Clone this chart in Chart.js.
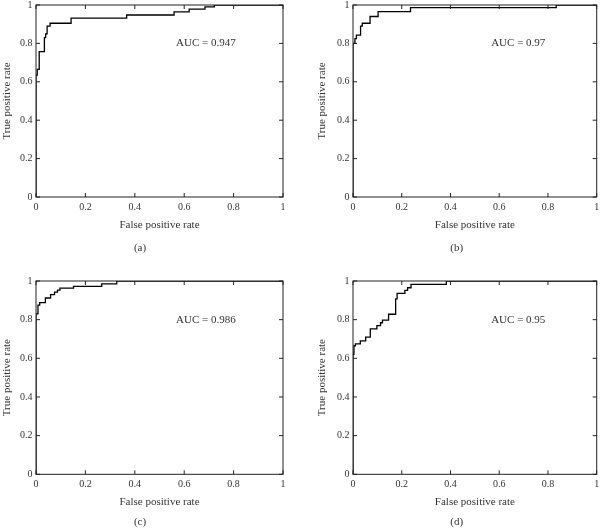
<!DOCTYPE html>
<html>
<head>
<meta charset="utf-8">
<script src="https://cdn.jsdelivr.net/npm/chart.js@4.4.0/dist/chart.umd.min.js"></script>
<style>
  body { margin: 0; background: #fff; }
  #wrap { position: relative; width: 600px; height: 529px; }
  canvas { position: absolute; }
</style>
</head>
<body>
<div id="wrap">
  <canvas id="chartA" width="300" height="264" style="left:0;top:0;width:300px;height:264px"></canvas>
  <canvas id="chartB" width="300" height="264" style="left:300px;top:0;width:300px;height:264px"></canvas>
  <canvas id="chartC" width="300" height="265" style="left:0;top:264px;width:300px;height:265px"></canvas>
  <canvas id="chartD" width="300" height="265" style="left:300px;top:264px;width:300px;height:265px"></canvas>
</div>
<script>
// tick positions shared by both axes
const tickValues = [0, 0.2, 0.4, 0.6, 0.8, 1];
const tickLabels = ['0', '0.2', '0.4', '0.6', '0.8', '1'];

// (a)
const fprA = [0, 0, 0.005, 0.013, 0.034, 0.039, 0.045, 0.057, 0.142, 0.367, 0.559, 0.62, 0.684, 0.722, 1];
const tprA = [0, 0.635, 0.665, 0.757, 0.83, 0.85, 0.89, 0.905, 0.932, 0.948, 0.964, 0.979, 0.99, 1, 1];
// (b)
const fprB = [0, 0, 0.008, 0.014, 0.031, 0.038, 0.07, 0.103, 0.236, 0.834, 1];
const tprB = [0, 0.80, 0.825, 0.843, 0.89, 0.905, 0.94, 0.966, 0.986, 1, 1];
// (c)
const fprC = [0, 0, 0.008, 0.015, 0.038, 0.059, 0.075, 0.087, 0.097, 0.152, 0.266, 0.327, 1];
const tprC = [0, 0.83, 0.875, 0.888, 0.912, 0.929, 0.942, 0.953, 0.963, 0.972, 0.985, 1, 1];
// (d)
const fprD = [0, 0, 0.004, 0.01, 0.03, 0.052, 0.071, 0.098, 0.113, 0.121, 0.146, 0.175, 0.181, 0.213, 0.224, 0.238, 0.383, 1];
const tprD = [0, 0.62, 0.665, 0.675, 0.69, 0.71, 0.752, 0.769, 0.784, 0.798, 0.828, 0.908, 0.936, 0.951, 0.965, 0.983, 1, 1];

const aucLabels = ['AUC = 0.947', 'AUC = 0.97', 'AUC = 0.986', 'AUC = 0.95'];
const captions = ['(a)', '(b)', '(c)', '(d)'];

const FONT = "'Liberation Serif', 'Times New Roman', serif";
const TEXT = '#333';

// box, inward ticks, AUC note and caption
const panelDeco = {
  id: 'panelDeco',
  afterDatasetsDraw(chart, args, opts) {
    const { ctx, chartArea: a } = chart;
    const xs = chart.scales.x, ys = chart.scales.y;
    ctx.save();
    ctx.strokeStyle = '#222';
    ctx.lineWidth = 1;
    ctx.strokeRect(a.left, a.top, a.right - a.left, a.bottom - a.top);
    ctx.beginPath();
    tickValues.forEach(v => {
      const px = xs.getPixelForValue(v);
      ctx.moveTo(px, a.bottom); ctx.lineTo(px, a.bottom - 4);
      ctx.moveTo(px, a.top); ctx.lineTo(px, a.top + 4);
      const py = ys.getPixelForValue(v);
      ctx.moveTo(a.left, py); ctx.lineTo(a.left + 4, py);
      ctx.moveTo(a.right, py); ctx.lineTo(a.right - 4, py);
    });
    ctx.stroke();

    ctx.fillStyle = TEXT;
    ctx.font = '11px ' + FONT;
    ctx.textAlign = 'left';
    ctx.textBaseline = 'middle';
    ctx.fillText(opts.auc, xs.getPixelForValue(0.567), ys.getPixelForValue(0.80));
    ctx.textAlign = 'center';
    ctx.fillText(opts.caption, opts.cx, opts.cy);
    ctx.restore();
  }
};

const tickText = (value, index) => tickLabels[index];

function makePanel(id, fpr, tpr, g, auc, caption) {
  const canvas = document.getElementById(id);
  const points = fpr.map((x, i) => ({ x: x, y: tpr[i] }));
  return new Chart(canvas, {
    type: 'scatter',
    data: {
      datasets: [{
        data: points,
        showLine: true,
        stepped: true,
        borderColor: '#000',
        borderWidth: 1.3,
        pointRadius: 0,
        fill: false
      }]
    },
    options: {
      responsive: false,
      animation: false,
      devicePixelRatio: 1,
      layout: {
        padding: { left: 0, top: g.top, right: canvas.width - g.right, bottom: canvas.height - g.bottom - 36 }
      },
      plugins: {
        legend: { display: false },
        tooltip: { enabled: false },
        panelDeco: { auc: auc, caption: caption, cx: g.cx, cy: g.cy }
      },
      scales: {
        x: {
          type: 'linear', min: 0, max: 1,
          afterBuildTicks: s => { s.ticks = tickValues.map(v => ({ value: v })); },
          afterFit: s => { s.height = 36; s.paddingLeft = 0; s.paddingRight = 0; },
          grid: { display: false, drawTicks: false },
          border: { display: false },
          ticks: { padding: 4, color: TEXT, font: { family: FONT, size: 10 }, maxRotation: 0, callback: tickText },
          title: { display: true, text: 'False positive rate', color: TEXT,
                   font: { family: FONT, size: 11 }, padding: { top: 0, bottom: 1.4 } }
        },
        y: {
          type: 'linear', min: 0, max: 1,
          afterBuildTicks: s => { s.ticks = tickValues.map(v => ({ value: v })); },
          afterFit: s => { s.width = g.left; s.paddingTop = 0; s.paddingBottom = 0; },
          grid: { display: false, drawTicks: false },
          border: { display: false },
          ticks: { padding: 3.5, color: TEXT, font: { family: FONT, size: 10 }, callback: tickText },
          title: { display: true, text: 'True positive rate', color: TEXT,
                   font: { family: FONT, size: 11 }, padding: { top: g.yTitleX - 6.6, bottom: 0 } }
        }
      }
    },
    plugins: [panelDeco]
  });
}

makePanel('chartA', fprA, tprA, { left: 36, right: 283, top: 5, bottom: 197, yTitleX: 7, cx: 140, cy: 248.3 }, aucLabels[0], captions[0]);
makePanel('chartB', fprB, tprB, { left: 53, right: 296.7, top: 5, bottom: 197, yTitleX: 21.7, cx: 156.7, cy: 248 }, aucLabels[1], captions[1]);
makePanel('chartC', fprC, tprC, { left: 36, right: 283, top: 17, bottom: 210.3, yTitleX: 7, cx: 140, cy: 258.3 }, aucLabels[2], captions[2]);
makePanel('chartD', fprD, tprD, { left: 53, right: 296.7, top: 17, bottom: 210.3, yTitleX: 21.7, cx: 156.7, cy: 258 }, aucLabels[3], captions[3]);
</script>
</body>
</html>
